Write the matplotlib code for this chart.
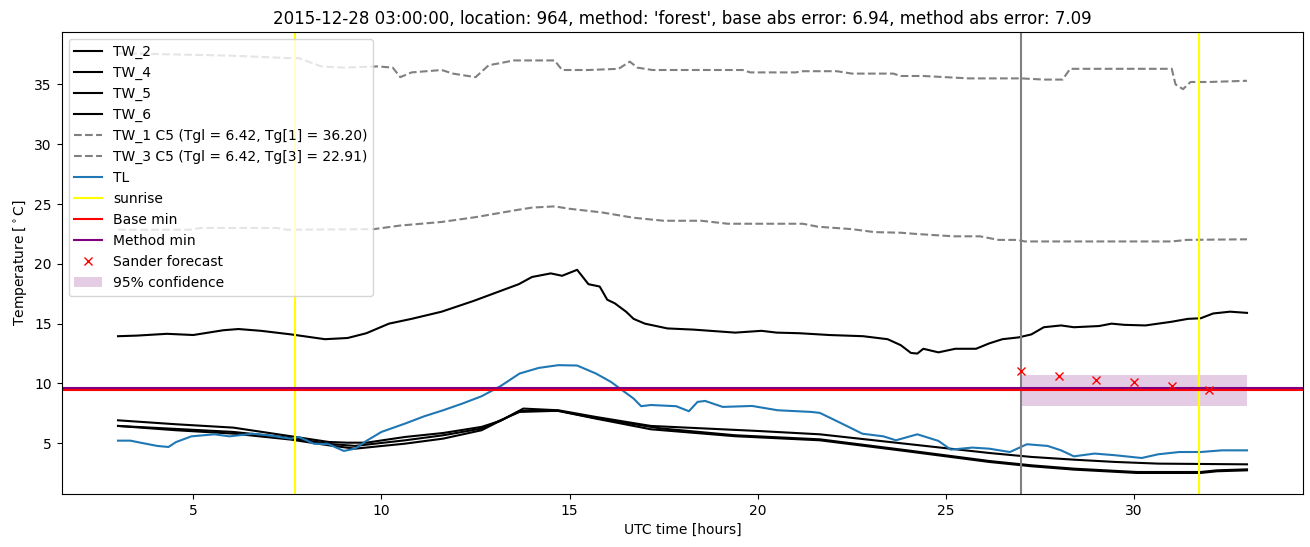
import numpy as np
import matplotlib
matplotlib.use("Agg")
import matplotlib.pyplot as plt

# --- data (hours UTC, degrees C) ---
tw2_t = [3, 3.5, 4.3, 5.0, 5.8, 6.2, 6.8, 7.6, 8.5, 9.1, 9.6, 10.2, 10.8, 11.6, 12.45,
         13.05, 13.65, 14.0, 14.5, 14.8, 15.2, 15.5, 15.8, 16.0, 16.2, 16.5, 16.7, 17.0,
         17.6, 18.3, 19.4, 20.1, 20.5, 21.1, 21.9, 22.8, 23.45, 23.8, 24.07, 24.24, 24.4,
         24.8, 25.25, 25.8, 26.15, 26.5, 26.93, 27.27, 27.6, 28.06, 28.4, 29.07, 29.4,
         29.74, 30.3, 30.98, 31.43, 31.77, 32.1, 32.55, 33.0]
tw2 = [13.95, 14.0, 14.15, 14.05, 14.45, 14.55, 14.4, 14.1, 13.7, 13.8, 14.2, 15.0, 15.4,
       16.0, 16.9, 17.6, 18.3, 18.9, 19.2, 19.0, 19.5, 18.3, 18.1, 17.0, 16.7, 16.0, 15.4,
       15.0, 14.6, 14.5, 14.25, 14.4, 14.25, 14.2, 14.05, 13.95, 13.7, 13.2, 12.55, 12.5,
       12.9, 12.6, 12.9, 12.9, 13.35, 13.7, 13.85, 14.1, 14.7, 14.85, 14.7, 14.8, 15.0,
       14.9, 14.85, 15.15, 15.4, 15.45, 15.85, 16.0, 15.9]

tw4_t = [3, 4.54, 6.06, 7.59, 8.6, 9.1, 9.6, 10.63, 11.64, 12.66, 13.16, 13.77, 14.7, 15.7,
         17.16, 20.0, 21.65, 23.9, 26.15, 27.27, 28.4, 29.5, 30.64, 33.0]
tw4 = [6.92, 6.59, 6.31, 5.59, 5.11, 5.05, 5.05, 5.53, 5.86, 6.37, 6.87, 7.9, 7.76, 7.2,
       6.45, 6.03, 5.75, 4.97, 4.19, 3.86, 3.63, 3.44, 3.3, 3.24]

tw5_t = [3, 4.54, 6.06, 7.59, 8.6, 9.3, 10.63, 11.64, 12.66, 13.67, 14.7, 15.7, 17.16,
         19.4, 21.65, 23.9, 26.15, 27.27, 28.4, 30.07, 31.77, 32.2, 33.0]
tw5 = [6.45, 6.09, 5.81, 5.31, 4.83, 4.55, 4.97, 5.39, 6.09, 7.7, 7.7, 7.06, 6.17,
       5.59, 5.25, 4.36, 3.44, 3.08, 2.8, 2.52, 2.52, 2.66, 2.74]

tw6_t = [3, 4.54, 6.06, 7.59, 8.6, 9.3, 10.63, 11.64, 12.66, 13.67, 14.7, 15.7, 17.4,
         19.4, 21.65, 23.9, 26.15, 27.27, 28.4, 30.07, 31.77, 32.2, 33.0]
tw6 = [6.45, 6.2, 5.95, 5.45, 4.95, 4.78, 5.25, 5.67, 6.23, 7.62, 7.72, 7.1, 6.25,
       5.67, 5.33, 4.44, 3.52, 3.16, 2.88, 2.6, 2.6, 2.74, 2.82]

tw1_t = [3, 4.5, 6, 7.5, 7.8, 8.4, 9.0, 9.9, 10.3, 10.5, 10.8, 11.6, 11.9, 12.5, 12.85,
         13.2, 13.5, 14.6, 14.8, 15.5, 16.3, 16.6, 16.8, 17.2, 19.6, 19.8, 21.0, 21.2,
         22.1, 22.5, 23.6, 23.8, 24.4, 25.6, 27.0, 27.6, 28.1, 28.3, 29.5, 31.0, 31.1,
         31.3, 31.5, 32.0, 33.0]
tw1 = [37.6, 37.5, 37.4, 37.2, 37.2, 36.5, 36.4, 36.5, 36.4, 35.6, 36.0, 36.2, 35.9,
       35.6, 36.6, 36.8, 37.0, 37.0, 36.2, 36.2, 36.3, 36.9, 36.4, 36.2, 36.2, 36.0,
       36.0, 36.1, 36.1, 35.9, 35.9, 35.7, 35.7, 35.5, 35.5, 35.4, 35.4, 36.3, 36.3,
       36.3, 35.0, 34.6, 35.2, 35.2, 35.3]

tw3_t = [3, 4.9, 5.2, 7.2, 7.5, 9.8, 10.5, 11.6, 12.5, 13.6, 14.0, 14.6, 15.0, 15.85,
         16.7, 17.5, 18.5, 19.2, 21.2, 21.6, 22.5, 23.1, 23.8, 24.2, 25.2, 25.9, 26.4,
         26.9, 27.1, 31.0, 31.4, 33.0]
tw3 = [22.85, 22.85, 23.0, 23.0, 22.85, 22.9, 23.2, 23.5, 23.9, 24.5, 24.7, 24.8, 24.6,
       24.3, 23.85, 23.6, 23.6, 23.35, 23.35, 23.1, 22.9, 22.65, 22.6, 22.5, 22.3, 22.3,
       22.0, 22.0, 21.87, 21.87, 22.0, 22.05]

tl_t = [3.0, 3.33, 3.63, 4.04, 4.34, 4.54, 4.95, 5.56, 5.96, 6.57, 6.98, 7.59, 7.8, 8.2,
        8.6, 9.0, 9.3, 9.6, 10.0, 10.63, 11.14, 11.64, 12.15, 12.66, 13.16, 13.67, 14.18,
        14.7, 15.2, 15.7, 16.1, 16.4, 16.7, 16.9, 17.16, 17.83, 18.17, 18.4, 18.6, 19.07,
        19.85, 20.53, 21.43, 21.65, 22.2, 22.78, 23.34, 23.67, 24.24, 24.8, 25.13, 25.7,
        26.15, 26.7, 27.15, 27.7, 28.06, 28.4, 28.95, 29.5, 30.2, 30.64, 31.2, 31.77,
        32.33, 33.0]
tl = [5.22, 5.22, 5.03, 4.78, 4.69, 5.1, 5.58, 5.75, 5.58, 5.8, 5.67, 5.39, 5.53, 4.97,
      4.92, 4.36, 4.55, 5.2, 5.95, 6.65, 7.26, 7.76, 8.32, 8.93, 9.77, 10.83, 11.3, 11.53,
      11.5, 10.83, 10.13, 9.43, 8.74, 8.1, 8.2, 8.1, 7.68, 8.46, 8.54, 8.04, 8.12, 7.76,
      7.62, 7.54, 6.7, 5.8, 5.58, 5.25, 5.75, 5.2, 4.47, 4.64, 4.55, 4.27, 4.92, 4.78,
      4.41, 3.91, 4.14, 4.0, 3.77, 4.08, 4.27, 4.27, 4.41, 4.41]

sunrise_hours = [7.71, 31.73]
forecast_start = 27.0
base_min = 9.45
method_min = 9.6

sander_t = [27, 28, 29, 30, 31, 32]
sander = [11.03, 10.66, 10.33, 10.1, 9.8, 9.43]
conf_t = [27.0, 33.0]
conf_low = [8.12, 8.12]
conf_high = [10.69, 10.69]

fig, ax = plt.subplots(figsize=(13.1, 5.47), dpi=100)
fig.subplots_adjust(left=0.047, right=0.995, top=0.941, bottom=0.097)

ax.plot(tw2_t, tw2, color='black', label='TW_2')
ax.plot(tw4_t, tw4, color='black', label='TW_4')
ax.plot(tw5_t, tw5, color='black', label='TW_5')
ax.plot(tw6_t, tw6, color='black', label='TW_6')
ax.plot(tw1_t, tw1, color='gray', linestyle='--', label='TW_1 C5 (Tgl = 6.42, Tg[1] = 36.20)')
ax.plot(tw3_t, tw3, color='gray', linestyle='--', label='TW_3 C5 (Tgl = 6.42, Tg[3] = 22.91)')
ax.plot(tl_t, tl, color='C0', label='TL')

for i, h in enumerate(sunrise_hours):
    ax.axvline(h, color='yellow', label='sunrise' if i == 0 else None)
ax.axvline(forecast_start, color='gray')
ax.axhline(base_min, color='red', label='Base min')
ax.axhline(method_min, color='purple', label='Method min')
ax.plot(sander_t, sander, 'rx', label='Sander forecast')
ax.fill_between(conf_t, conf_low, conf_high, color='purple', alpha=0.2, linewidth=0,
                label='95% confidence')

ax.set_title("2015-12-28 03:00:00, location: 964, method: 'forest', "
             "base abs error: 6.94, method abs error: 7.09")
ax.set_xlabel('UTC time [hours]')
ax.set_ylabel(r'Temperature [$^\circ$C]')
ax.legend(loc='upper left')

plt.savefig('out.png', dpi=100)
